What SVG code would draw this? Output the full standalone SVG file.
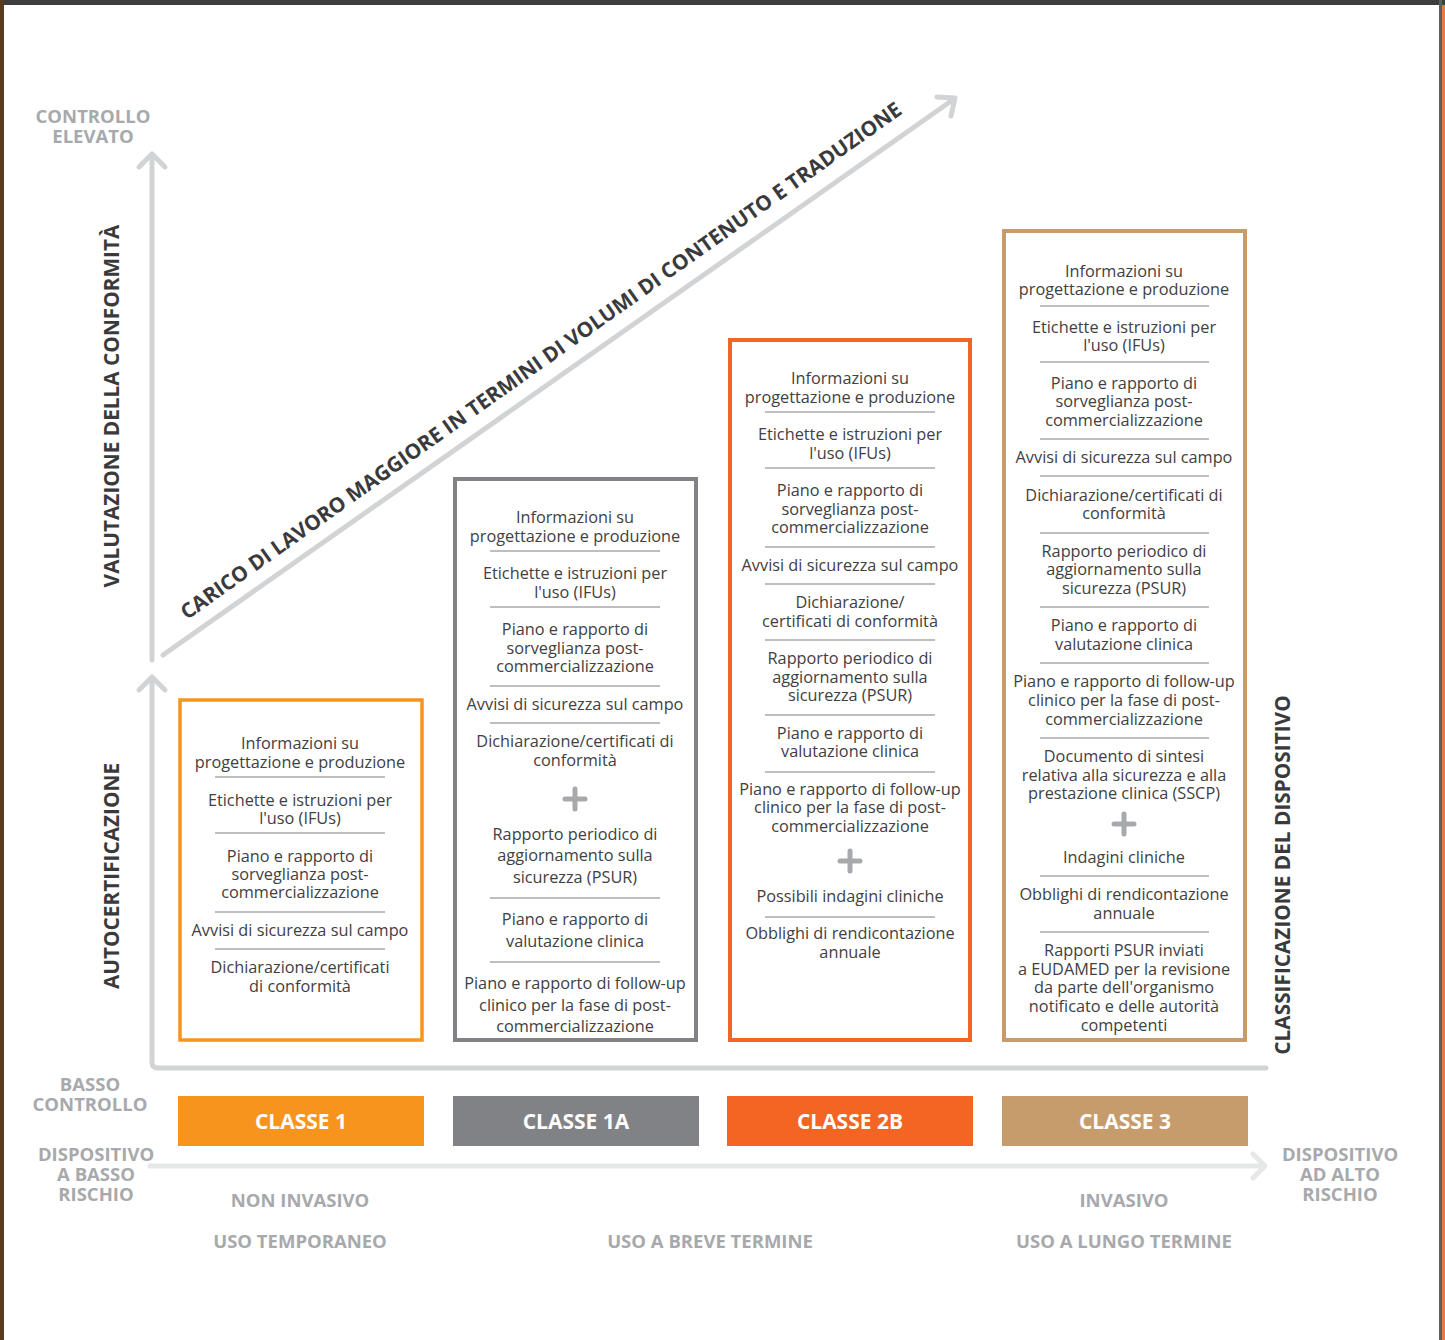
<svg xmlns="http://www.w3.org/2000/svg" width="1445" height="1340" viewBox="0 0 1445 1340">
<style>
.t{font-family:"Open Sans","Noto Sans","Liberation Sans",sans-serif;font-size:16.3px;fill:#414042;text-anchor:middle}
.ax{font-family:"Open Sans","Noto Sans","Liberation Sans",sans-serif;font-size:18.5px;font-weight:700;fill:#a7a9ac;text-anchor:middle}
.vl{font-family:"Open Sans","Noto Sans","Liberation Sans",sans-serif;font-size:20.8px;font-weight:700;fill:#3a3a3c;text-anchor:middle}
.cl{font-family:"Open Sans","Noto Sans","Liberation Sans",sans-serif;font-size:21px;font-weight:700;fill:#ffffff;text-anchor:middle}
.sep{stroke:#bcbec0;stroke-width:2}
.plus{stroke:#a7a9ac;stroke-width:5;stroke-linecap:round}
.axis{fill:none;stroke:#d1d3d4;stroke-width:5;stroke-linecap:round;stroke-linejoin:round}
</style>
<rect x="0" y="0" width="1445" height="1340" fill="#ffffff"/>
<rect x="0" y="0" width="1445" height="5" fill="#3d3d3d"/>
<rect x="0" y="0" width="4" height="1340" fill="#5a3a1e"/>
<rect x="1439" y="0" width="3" height="1340" fill="#5e5e5e"/>
<rect x="1442" y="5" width="3" height="1335" fill="#e08040"/>

<g id="connectors">
<polyline class="axis" points="152,157 152,660"/>
<polyline class="axis" points="139,167 152,154 165,167"/>
<path class="axis" d="M152,679 V1062 Q152,1068 158,1068 H1266"/>
<polyline class="axis" points="139,690 152,677 165,690"/>
<line class="axis" x1="163" y1="655" x2="954" y2="99"/>
<polyline class="axis" points="937,97 955,98 951,116"/>
<line x1="150" y1="1166" x2="1264" y2="1166" stroke="#e6e7e8" stroke-width="5" stroke-linecap="round"/>
<polyline points="1253,1154 1265,1166 1253,1178" fill="none" stroke="#e6e7e8" stroke-width="5" stroke-linecap="round" stroke-linejoin="round"/>
</g>

<g id="axis-labels">
<text class="ax" x="93" y="123">CONTROLLO</text>
<text class="ax" x="93" y="143">ELEVATO</text>
<text class="ax" x="90" y="1091">BASSO</text>
<text class="ax" x="90" y="1111">CONTROLLO</text>
<text class="ax" x="96" y="1161">DISPOSITIVO</text>
<text class="ax" x="96" y="1181">A BASSO</text>
<text class="ax" x="96" y="1201">RISCHIO</text>
<text class="ax" x="1340" y="1161">DISPOSITIVO</text>
<text class="ax" x="1340" y="1181">AD ALTO</text>
<text class="ax" x="1340" y="1201">RISCHIO</text>
<text class="ax" x="300" y="1207">NON INVASIVO</text>
<text class="ax" x="300" y="1248">USO TEMPORANEO</text>
<text class="ax" x="710" y="1248">USO A BREVE TERMINE</text>
<text class="ax" x="1124" y="1207">INVASIVO</text>
<text class="ax" x="1124" y="1248">USO A LUNGO TERMINE</text>
<text class="vl" transform="translate(119,406) rotate(-90)">VALUTAZIONE DELLA CONFORMITÀ</text>
<text class="vl" transform="translate(119,876) rotate(-90)">AUTOCERTIFICAZIONE</text>
<text class="vl" transform="translate(1290,875) rotate(-90)">CLASSIFICAZIONE DEL DISPOSITIVO</text>
<text class="vl" transform="translate(541,361) rotate(-35.3)" y="7">CARICO DI LAVORO MAGGIORE IN TERMINI DI VOLUMI DI CONTENUTO E TRADUZIONE</text>
</g>

<g id="classe1">
<rect x="180" y="700" width="242" height="340" fill="none" stroke="#f7941d" stroke-width="3.5"/>
<text class="t" x="300" y="749">Informazioni su</text>
<text class="t" x="300" y="768">progettazione e produzione</text>
<line class="sep" x1="215" y1="777" x2="385" y2="777"/>
<text class="t" x="300" y="806">Etichette e istruzioni per</text>
<text class="t" x="300" y="824">l'uso (IFUs)</text>
<line class="sep" x1="215" y1="833" x2="385" y2="833"/>
<text class="t" x="300" y="862">Piano e rapporto di</text>
<text class="t" x="300" y="880">sorveglianza post-</text>
<text class="t" x="300" y="898">commercializzazione</text>
<line class="sep" x1="215" y1="912" x2="385" y2="912"/>
<text class="t" x="300" y="936">Avvisi di sicurezza sul campo</text>
<line class="sep" x1="215" y1="949" x2="385" y2="949"/>
<text class="t" x="300" y="973">Dichiarazione/certificati</text>
<text class="t" x="300" y="992">di conformità</text>
</g>

<g id="classe1a">
<rect x="455" y="479" width="241" height="561" fill="none" stroke="#808285" stroke-width="4"/>
<text class="t" x="575" y="523">Informazioni su</text>
<text class="t" x="575" y="542">progettazione e produzione</text>
<line class="sep" x1="490" y1="551" x2="660" y2="551"/>
<text class="t" x="575" y="579">Etichette e istruzioni per</text>
<text class="t" x="575" y="598">l'uso (IFUs)</text>
<line class="sep" x1="490" y1="607" x2="660" y2="607"/>
<text class="t" x="575" y="635">Piano e rapporto di</text>
<text class="t" x="575" y="654">sorveglianza post-</text>
<text class="t" x="575" y="672">commercializzazione</text>
<line class="sep" x1="490" y1="686" x2="660" y2="686"/>
<text class="t" x="575" y="710">Avvisi di sicurezza sul campo</text>
<line class="sep" x1="490" y1="723" x2="660" y2="723"/>
<text class="t" x="575" y="747">Dichiarazione/certificati di</text>
<text class="t" x="575" y="766">conformità</text>
<line class="plus" x1="565" y1="799" x2="585" y2="799"/>
<line class="plus" x1="575" y1="789" x2="575" y2="809"/>
<text class="t" x="575" y="840">Rapporto periodico di</text>
<text class="t" x="575" y="861">aggiornamento sulla</text>
<text class="t" x="575" y="883">sicurezza (PSUR)</text>
<line class="sep" x1="490" y1="898" x2="660" y2="898"/>
<text class="t" x="575" y="925">Piano e rapporto di</text>
<text class="t" x="575" y="947">valutazione clinica</text>
<line class="sep" x1="490" y1="962" x2="660" y2="962"/>
<text class="t" x="575" y="989">Piano e rapporto di follow-up</text>
<text class="t" x="575" y="1011">clinico per la fase di post-</text>
<text class="t" x="575" y="1032">commercializzazione</text>
</g>

<g id="classe2b">
<rect x="730" y="340" width="240" height="700" fill="none" stroke="#f26522" stroke-width="4"/>
<text class="t" x="850" y="384">Informazioni su</text>
<text class="t" x="850" y="403">progettazione e produzione</text>
<line class="sep" x1="765" y1="412" x2="935" y2="412"/>
<text class="t" x="850" y="440">Etichette e istruzioni per</text>
<text class="t" x="850" y="459">l'uso (IFUs)</text>
<line class="sep" x1="765" y1="468" x2="935" y2="468"/>
<text class="t" x="850" y="496">Piano e rapporto di</text>
<text class="t" x="850" y="515">sorveglianza post-</text>
<text class="t" x="850" y="533">commercializzazione</text>
<line class="sep" x1="765" y1="547" x2="935" y2="547"/>
<text class="t" x="850" y="571">Avvisi di sicurezza sul campo</text>
<line class="sep" x1="765" y1="584" x2="935" y2="584"/>
<text class="t" x="850" y="608">Dichiarazione/</text>
<text class="t" x="850" y="627">certificati di conformità</text>
<line class="sep" x1="765" y1="640" x2="935" y2="640"/>
<text class="t" x="850" y="664">Rapporto periodico di</text>
<text class="t" x="850" y="683">aggiornamento sulla</text>
<text class="t" x="850" y="701">sicurezza (PSUR)</text>
<line class="sep" x1="765" y1="715" x2="935" y2="715"/>
<text class="t" x="850" y="739">Piano e rapporto di</text>
<text class="t" x="850" y="757">valutazione clinica</text>
<line class="sep" x1="765" y1="772" x2="935" y2="772"/>
<text class="t" x="850" y="795">Piano e rapporto di follow-up</text>
<text class="t" x="850" y="813">clinico per la fase di post-</text>
<text class="t" x="850" y="832">commercializzazione</text>
<line class="plus" x1="840" y1="861" x2="860" y2="861"/>
<line class="plus" x1="850" y1="851" x2="850" y2="871"/>
<text class="t" x="850" y="902">Possibili indagini cliniche</text>
<line class="sep" x1="765" y1="917" x2="935" y2="917"/>
<text class="t" x="850" y="939">Obblighi di rendicontazione</text>
<text class="t" x="850" y="958">annuale</text>
</g>

<g id="classe3">
<rect x="1004" y="231" width="241" height="809" fill="none" stroke="#c69c6d" stroke-width="4"/>
<text class="t" x="1124" y="277">Informazioni su</text>
<text class="t" x="1124" y="295">progettazione e produzione</text>
<line class="sep" x1="1040" y1="306" x2="1209" y2="306"/>
<text class="t" x="1124" y="333">Etichette e istruzioni per</text>
<text class="t" x="1124" y="351">l'uso (IFUs)</text>
<line class="sep" x1="1040" y1="362" x2="1209" y2="362"/>
<text class="t" x="1124" y="389">Piano e rapporto di</text>
<text class="t" x="1124" y="407">sorveglianza post-</text>
<text class="t" x="1124" y="426">commercializzazione</text>
<line class="sep" x1="1040" y1="439" x2="1209" y2="439"/>
<text class="t" x="1124" y="463">Avvisi di sicurezza sul campo</text>
<line class="sep" x1="1040" y1="476" x2="1209" y2="476"/>
<text class="t" x="1124" y="501">Dichiarazione/certificati di</text>
<text class="t" x="1124" y="519">conformità</text>
<line class="sep" x1="1040" y1="533" x2="1209" y2="533"/>
<text class="t" x="1124" y="557">Rapporto periodico di</text>
<text class="t" x="1124" y="575">aggiornamento sulla</text>
<text class="t" x="1124" y="594">sicurezza (PSUR)</text>
<line class="sep" x1="1040" y1="607" x2="1209" y2="607"/>
<text class="t" x="1124" y="631">Piano e rapporto di</text>
<text class="t" x="1124" y="650">valutazione clinica</text>
<line class="sep" x1="1040" y1="663" x2="1209" y2="663"/>
<text class="t" x="1124" y="687">Piano e rapporto di follow-up</text>
<text class="t" x="1124" y="706">clinico per la fase di post-</text>
<text class="t" x="1124" y="725">commercializzazione</text>
<line class="sep" x1="1040" y1="738" x2="1209" y2="738"/>
<text class="t" x="1124" y="762">Documento di sintesi</text>
<text class="t" x="1124" y="781">relativa alla sicurezza e alla</text>
<text class="t" x="1124" y="799">prestazione clinica (SSCP)</text>
<line class="plus" x1="1114" y1="824" x2="1134" y2="824"/>
<line class="plus" x1="1124" y1="814" x2="1124" y2="834"/>
<text class="t" x="1124" y="863">Indagini cliniche</text>
<line class="sep" x1="1040" y1="876" x2="1209" y2="876"/>
<text class="t" x="1124" y="900">Obblighi di rendicontazione</text>
<text class="t" x="1124" y="919">annuale</text>
<line class="sep" x1="1040" y1="932" x2="1209" y2="932"/>
<text class="t" x="1124" y="956">Rapporti PSUR inviati</text>
<text class="t" x="1124" y="975">a EUDAMED per la revisione</text>
<text class="t" x="1124" y="993">da parte dell'organismo</text>
<text class="t" x="1124" y="1012">notificato e delle autorità</text>
<text class="t" x="1124" y="1031">competenti</text>
</g>

<g id="label-classe1"><rect x="178" y="1096" width="246" height="50" fill="#f7941d"/><text class="cl" x="301" y="1129">CLASSE 1</text></g>
<g id="label-classe1a"><rect x="453" y="1096" width="246" height="50" fill="#808285"/><text class="cl" x="576" y="1129">CLASSE 1A</text></g>
<g id="label-classe2b"><rect x="727" y="1096" width="246" height="50" fill="#f26522"/><text class="cl" x="850" y="1129">CLASSE 2B</text></g>
<g id="label-classe3"><rect x="1002" y="1096" width="246" height="50" fill="#c69c6d"/><text class="cl" x="1125" y="1129">CLASSE 3</text></g>
</svg>
